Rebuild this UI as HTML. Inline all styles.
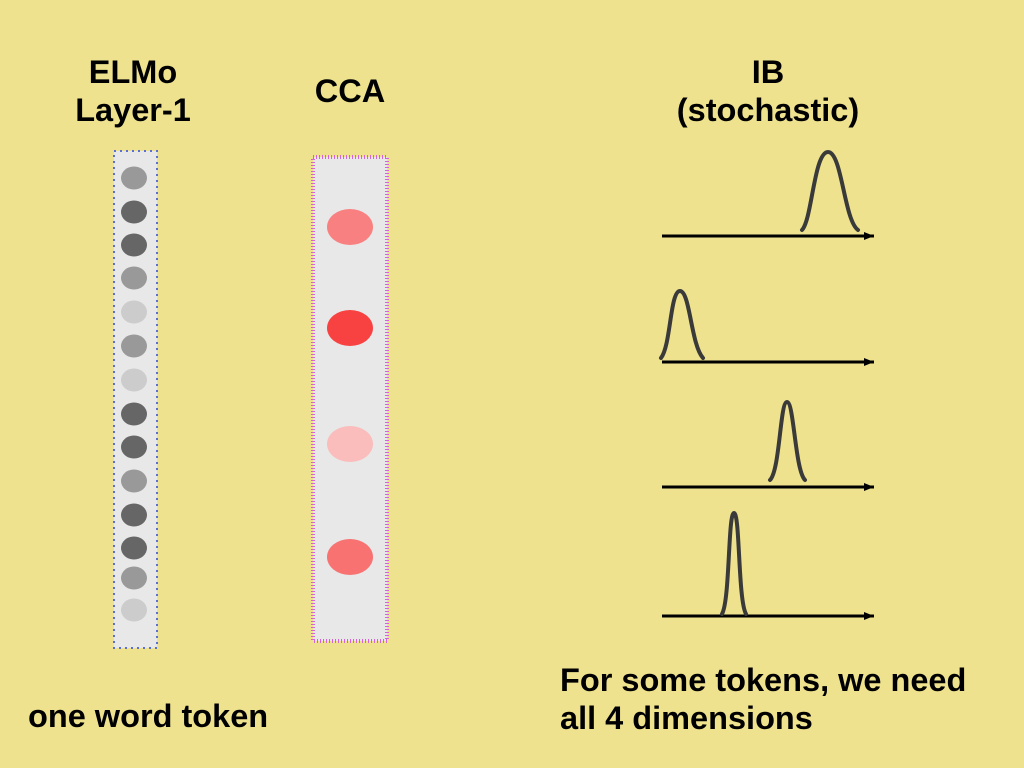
<!DOCTYPE html>
<html><head><style>
body{margin:0;width:1024px;height:768px;background:#eee28e;position:relative;overflow:hidden;font-family:"Liberation Sans",sans-serif;}
.t{position:absolute;font-size:32.5px;font-weight:bold;color:#000;text-align:center;line-height:38px;white-space:nowrap;}
</style></head><body>
<div class="t" style="left:40px;top:53px;width:186px;">ELMo<br>Layer-1</div>
<div class="t" style="left:280px;top:72px;width:140px;">CCA</div>
<div class="t" style="left:620px;top:53px;width:296px;">IB<br>(stochastic)</div>
<div class="t" style="left:28px;top:697px;text-align:left;">one word token</div>
<div class="t" style="left:560px;top:661px;text-align:left;">For some tokens, we need<br>all 4 dimensions</div>
<svg width="1024" height="768" style="position:absolute;left:0;top:0">
<defs><marker id="a" markerUnits="userSpaceOnUse" markerWidth="10" markerHeight="10" refX="10" refY="5" orient="auto"><path d="M0,1 L10,5 L0,9z" fill="#000"/></marker></defs>
<rect x="114" y="151" width="43" height="497" fill="#e8e8e8" stroke="#5a6fd0" stroke-width="2" stroke-dasharray="2 4"/>
<g>
<ellipse cx="134" cy="178" rx="13" ry="11.5" fill="#999"/>
<ellipse cx="134" cy="212" rx="13" ry="11.5" fill="#666"/>
<ellipse cx="134" cy="245" rx="13" ry="11.5" fill="#666"/>
<ellipse cx="134" cy="278" rx="13" ry="11.5" fill="#999"/>
<ellipse cx="134" cy="312" rx="13" ry="11.5" fill="#ccc"/>
<ellipse cx="134" cy="346" rx="13" ry="11.5" fill="#999"/>
<ellipse cx="134" cy="380" rx="13" ry="11.5" fill="#ccc"/>
<ellipse cx="134" cy="414" rx="13" ry="11.5" fill="#666"/>
<ellipse cx="134" cy="447" rx="13" ry="11.5" fill="#666"/>
<ellipse cx="134" cy="481" rx="13" ry="11.5" fill="#999"/>
<ellipse cx="134" cy="515" rx="13" ry="11.5" fill="#666"/>
<ellipse cx="134" cy="548" rx="13" ry="11.5" fill="#666"/>
<ellipse cx="134" cy="578" rx="13" ry="11.5" fill="#999"/>
<ellipse cx="134" cy="610" rx="13" ry="11.5" fill="#ccc"/>
</g>
<rect x="313" y="157" width="74" height="484" fill="#e8e8e8" stroke="#d860d8" stroke-width="4" stroke-dasharray="1 2"/>
<ellipse cx="350" cy="227" rx="23" ry="18" fill="#f98080"/>
<ellipse cx="350" cy="328" rx="23" ry="18" fill="#f84242"/>
<ellipse cx="350" cy="444" rx="23" ry="18" fill="#fbbcbc"/>
<ellipse cx="350" cy="557" rx="23" ry="18" fill="#f87272"/>
<g stroke="#000" stroke-width="3" marker-end="url(#a)">
<line x1="662" y1="236" x2="874" y2="236"/>
<line x1="662" y1="362" x2="874" y2="362"/>
<line x1="662" y1="487" x2="874" y2="487"/>
<line x1="662" y1="616" x2="874" y2="616"/>
</g>
<g fill="none" stroke="#3a3a3a" stroke-width="4" stroke-linecap="round">
<path d="M802,230 C812,220 814,152 828,152 C842,152 844,220 858,230"/>
<path d="M661,358 C671,345 670,291 680,291 C690,291 691,345 703,358"/>
<path d="M770,480 C780,470 780,402 787,402 C794,402 795,470 805,480"/>
<path d="M722,614 C730,600 728,513 734,513 C740,513 738,600 746,614"/>
</g>
</svg>
</body></html>
